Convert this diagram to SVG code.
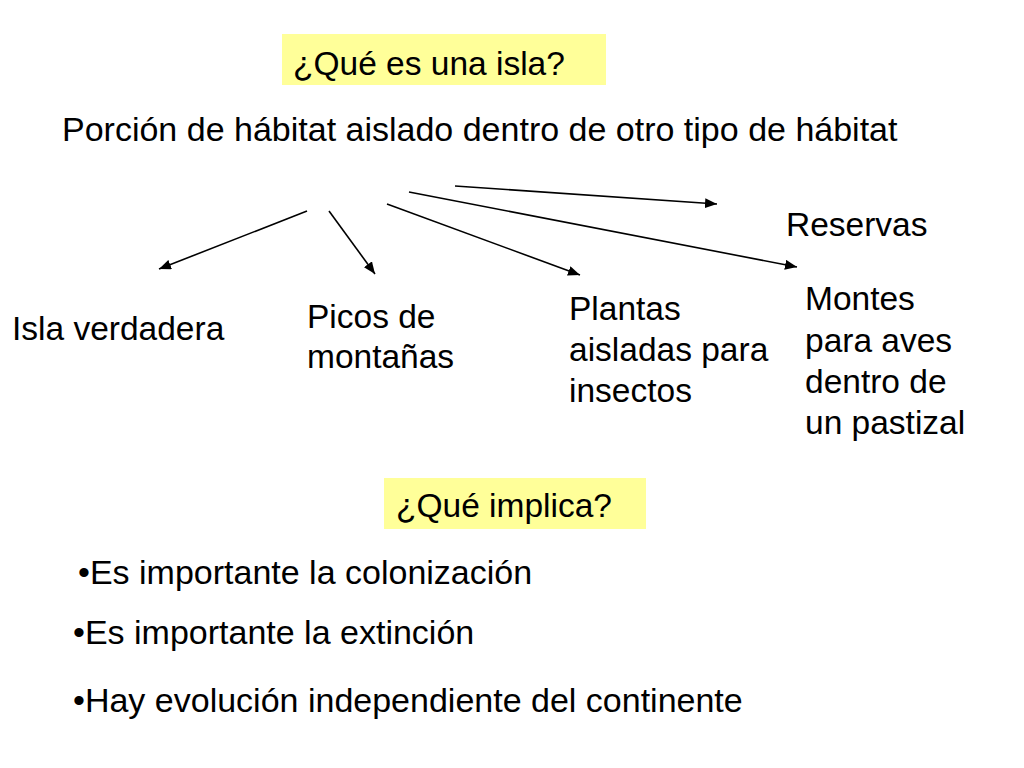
<svg xmlns="http://www.w3.org/2000/svg" width="1024" height="768" viewBox="0 0 1024 768">
<defs>
<style>
text{font-family:"Liberation Sans",Arial,sans-serif;font-size:33.5px;fill:#000}
.big{font-size:34px}
.box{fill:#FFFF99}
.conn line{stroke:#000;stroke-width:1.6;marker-end:url(#ah)}
</style>
<marker id="ah" viewBox="0 0 12 10" refX="12" refY="5" markerWidth="12" markerHeight="10" markerUnits="userSpaceOnUse" orient="auto">
<path d="M0,0 L12,5 L0,10 z" fill="#000"/>
</marker>
</defs>
<rect width="1024" height="768" fill="#fff"/>
<g id="q1">
<rect class="box" x="282" y="34" width="324" height="51"/>
<text x="293" y="75">¿Qué es una isla?</text>
</g>
<g id="def">
<text class="big" x="62" y="141">Porción de hábitat aislado dentro de otro tipo de hábitat</text>
</g>
<g class="conn" id="connectors">
<line x1="307" y1="211" x2="159" y2="269"/>
<line x1="329" y1="211" x2="375" y2="274"/>
<line x1="387" y1="204" x2="580" y2="275"/>
<line x1="409" y1="192" x2="797" y2="267"/>
<line x1="455" y1="186" x2="717" y2="204"/>
</g>
<g id="isla"><text x="12" y="340">Isla verdadera</text></g>
<g id="picos"><text x="307" y="328">Picos de</text><text x="307" y="368">montañas</text></g>
<g id="plantas"><text x="569" y="320">Plantas</text><text x="569" y="361">aisladas para</text><text x="569" y="402">insectos</text></g>
<g id="reservas"><text x="786" y="236">Reservas</text></g>
<g id="montes"><text x="805" y="310">Montes</text><text x="805" y="352">para aves</text><text x="805" y="393">dentro de</text><text x="805" y="434">un pastizal</text></g>
<g id="q2">
<rect class="box" x="384" y="478" width="262" height="51"/>
<text x="396" y="517">¿Qué implica?</text>
</g>
<g id="b1"><text class="big" x="78" y="584">•Es importante la colonización</text></g>
<g id="b2"><text class="big" x="73" y="644">•Es importante la extinción</text></g>
<g id="b3"><text class="big" x="73" y="712">•Hay evolución independiente del continente</text></g>
</svg>
